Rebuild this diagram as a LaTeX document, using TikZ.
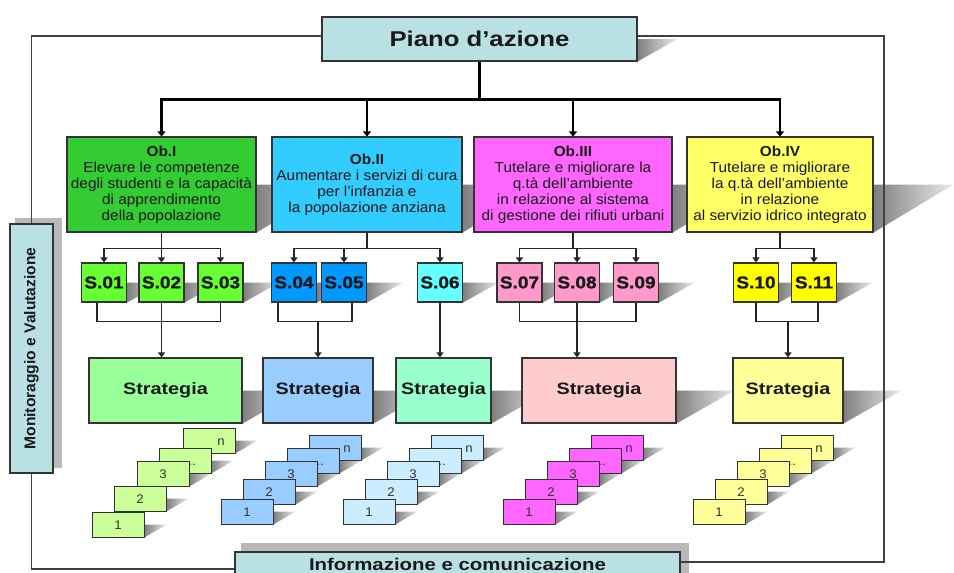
\documentclass[tikz,border=0pt]{standalone}
\usepackage{fontspec}
\setmainfont{Liberation Sans}[FakeStretch=1.06]
\newfontfamily\headfont{Liberation Sans}[FakeStretch=1.2]
\newfontfamily\blackfont{Liberation Sans}[FakeStretch=1.12, FakeBold=1.2]
\newfontfamily\sidefont{Liberation Sans}
\usepackage{graphicx}
\usetikzlibrary{arrows.meta,backgrounds}

\definecolor{panel}{HTML}{B9E1E4}
\definecolor{obone}{HTML}{33CC33}
\definecolor{obtwo}{HTML}{33CCFF}
\definecolor{obthree}{HTML}{FF66FF}
\definecolor{obfour}{HTML}{FFFF66}
\definecolor{sgreen}{HTML}{66FF33}
\definecolor{sblue}{HTML}{0099FF}
\definecolor{scyan}{HTML}{66FFFF}
\definecolor{spink}{HTML}{FF99CC}
\definecolor{syellow}{HTML}{FFFF00}
\definecolor{stgreen}{HTML}{99FF99}
\definecolor{stblue}{HTML}{99CCFF}
\definecolor{stmint}{HTML}{99FFCC}
\definecolor{stpink}{HTML}{FFCCCC}
\definecolor{styellow}{HTML}{FFFF99}
\definecolor{cgreen}{HTML}{CCFF99}
\definecolor{cblue}{HTML}{99CCFF}
\definecolor{clight}{HTML}{CCECFF}
\definecolor{cmagenta}{HTML}{FF66FF}
\definecolor{cyellow}{HTML}{FFFF99}

% perspective shadow behind a box
\newcommand{\pshade}[2]{\shade[left color=black!50, right color=black!8] (#1.east) -- ++(#2,0) -- (#1.south east) -- cycle;}
\newcommand{\dotlab}{\hspace*{14pt}..}
\newcommand{\nlab}{\hspace*{24pt}n}
% stack of pages: name, fill, centre of page 1, offsets
\newcommand{\cardstack}[5]{%
	\foreach \lab/\dx/\dy/\k in {#5}
		\node[card, fill=#2] (#1-\k) at (#3+\dx, #4-\dy) {\lab};
	\begin{pgfonlayer}{background}
		\foreach \k in {n,d,3,2,1} {\pshade{#1-\k}{22}}
	\end{pgfonlayer}
}

\begin{document}
\begin{tikzpicture}[x=1pt, y=-1pt,
	basebox/.style={draw=black!80, line width=1.1pt, inner sep=0pt, text=black!90},
	panelbox/.style={basebox, fill=panel},
	obbox/.style={basebox, minimum width=#1, minimum height=95pt, align=center, font=\fontsize{14.5}{16}\selectfont},
	sbox/.style={basebox, minimum width=45pt, minimum height=39pt, font=\blackfont\bfseries\fontsize{17}{18}\selectfont},
	stratbox/.style={basebox, minimum width=#1, minimum height=65pt, font=\headfont\bfseries\fontsize{16.5}{18}\selectfont},
	card/.style={draw=black!80, line width=0.9pt, minimum width=52pt, minimum height=25pt, inner sep=0pt, text=black!80, text height=9pt, text depth=0pt, font=\fontsize{12.5}{13}\selectfont},
	link/.style={black!85, line width=1.5pt},
	sarrow/.style={link, -{Triangle[length=5pt, width=7pt]}},
	bigarrow/.style={black, line width=2.4pt, -{Triangle[length=5pt, width=8pt]}},
	rim/.style={black!75, line width=1.6pt}
]
	\useasboundingbox (0,0) rectangle (954,573);
	\begin{pgfonlayer}{background}
		\fill[white] (0,0) rectangle (954,573);
	\end{pgfonlayer}

	\node[panelbox, minimum width=315pt, minimum height=44pt, font=\headfont\bfseries\fontsize{21.4}{24}\selectfont] (piano) at (479.5,39) {Piano d’azione};
	\node[panelbox, minimum width=43pt, minimum height=249pt] (moni) at (31.5,348.5) {\rotatebox{90}{\sidefont\bfseries\fontsize{15.6}{18}\selectfont Monitoraggio e Valutazione}};
	\node[panelbox, minimum width=445pt, minimum height=34pt, text height=12.5pt, text depth=9pt, font=\headfont\bfseries\fontsize{17}{20}\selectfont] (info) at (457.5,569) {Informazione e comunicazione};

	% obiettivi
	\node[obbox=189pt, fill=obone] (ob1) at (161.5,184.5) {\textbf{Ob.I}\\Elevare le competenze\\degli studenti e la capacità\\di apprendimento\\della popolazione};
	\node[obbox=190pt, fill=obtwo] (ob2) at (367,184.5) {\textbf{Ob.II}\\Aumentare i servizi di cura\\per l’infanzia e\\la popolazione anziana};
	\node[obbox=198pt, fill=obthree] (ob3) at (573,184.5) {\textbf{Ob.III}\\Tutelare e migliorare la\\q.tà dell’ambiente\\in relazione al sistema\\di gestione dei rifiuti urbani};
	\node[obbox=186pt, fill=obfour] (ob4) at (780,184.5) {\textbf{Ob.IV}\\Tutelare e migliorare\\la q.tà dell’ambiente\\in relazione\\al servizio idrico integrato};

	\foreach \n/\x/\c in {01/104/sgreen, 02/161.5/sgreen, 03/220.5/sgreen, 04/294/sblue, 05/344/sblue, 06/440/scyan, 07/519.5/spink, 08/577/spink, 09/636/spink, 10/756/syellow, 11/814/syellow}
		\node[sbox, fill=\c] (s\n) at (\x,282.5) {S.\n};

	\foreach \n/\x/\w/\c in {1/165.5/153pt/stgreen, 2/318/110pt/stblue, 3/443.5/95pt/stmint, 4/599/154pt/stpink, 5/788/110pt/styellow}
		\node[stratbox=\w, fill=\c] (st\n) at (\x,390.5) {Strategia};

	% pages
	\cardstack{ca}{cgreen}{118}{524.5}{\nlab/91/84/n, \dotlab/67/64/d, 3/45/51/3, 2/22/26/2, 1/0/0/1}
	\cardstack{cb}{cblue}{247}{511.5}{\nlab/88/64/n, \dotlab/66/51/d, 3/44/38/3, 2/22/20/2, 1/0/0/1}
	\cardstack{cc}{clight}{369}{511.5}{\nlab/88/64/n, \dotlab/66/51/d, 3/44/38/3, 2/22/20/2, 1/0/0/1}
	\cardstack{cd}{cmagenta}{529}{511.5}{\nlab/88/64/n, \dotlab/66/51/d, 3/44/38/3, 2/22/20/2, 1/0/0/1}
	\cardstack{ce}{cyellow}{719}{511.5}{\nlab/88/64/n, \dotlab/66/51/d, 3/44/38/3, 2/22/20/2, 1/0/0/1}

	% connectors
	\foreach \n in {1,...,4}
		\draw[bigarrow] (piano.south) -- ++(0,38) -| (ob\n.north);
	\foreach \o/\s in {1/01, 1/02, 1/03, 2/04, 2/05, 2/06, 3/07, 3/08, 3/09, 4/10, 4/11}
		\draw[sarrow] (ob\o.south) -- ++(0,16) -| (s\s.north);

	\draw[link] ([xshift=-7pt]s01.south) -- ++(0,19) -| (s03.south);
	\draw[sarrow] (s02.south) -- (s02.south |- st1.north);
	\draw[link] ([xshift=-16pt]s04.south) -- ++(0,19) coordinate (j2) -| ([xshift=8pt]s05.south);
	\draw[sarrow] (j2 -| st2.north) -- (st2.north);
	\draw[sarrow] (s06.south) -- (s06.south |- st3.north);
	\draw[link] (s07.south) -- ++(0,19) -| (s09.south);
	\draw[sarrow] (s08.south) -- (s08.south |- st4.north);
	\draw[link] (s10.south) -- ++(0,19) coordinate (j5) -| ([xshift=4pt]s11.south);
	\draw[sarrow] (j5 -| st5.north) -- (st5.north);

	% frame
	\coordinate (fr) at (884,562);
	\draw[rim] ([yshift=3pt]piano.west) -| (moni.north);
	\draw[rim] (moni.south) |- (info.west);
	\draw[rim] ([yshift=3pt]piano.east) -| (fr) -- (fr -| info.east);

	\begin{pgfonlayer}{background}
		\pshade{piano}{40}
		\foreach \n in {1,...,4} {\pshade{ob\n}{80}}
		\foreach \n in {01,02,03,04,05,06,07,08,09,10,11} {\pshade{s\n}{36}}
		\foreach \n in {1,...,5} {\pshade{st\n}{58}}
		\fill[gray!55] ([xshift=6pt,yshift=5pt]moni.north west) rectangle ([xshift=8pt,yshift=6pt]moni.south east);
		\fill[gray!55] ([xshift=7pt,yshift=8pt]info.north west) rectangle ([xshift=8pt,yshift=8pt]info.south east);
	\end{pgfonlayer}
\end{tikzpicture}
\end{document}
